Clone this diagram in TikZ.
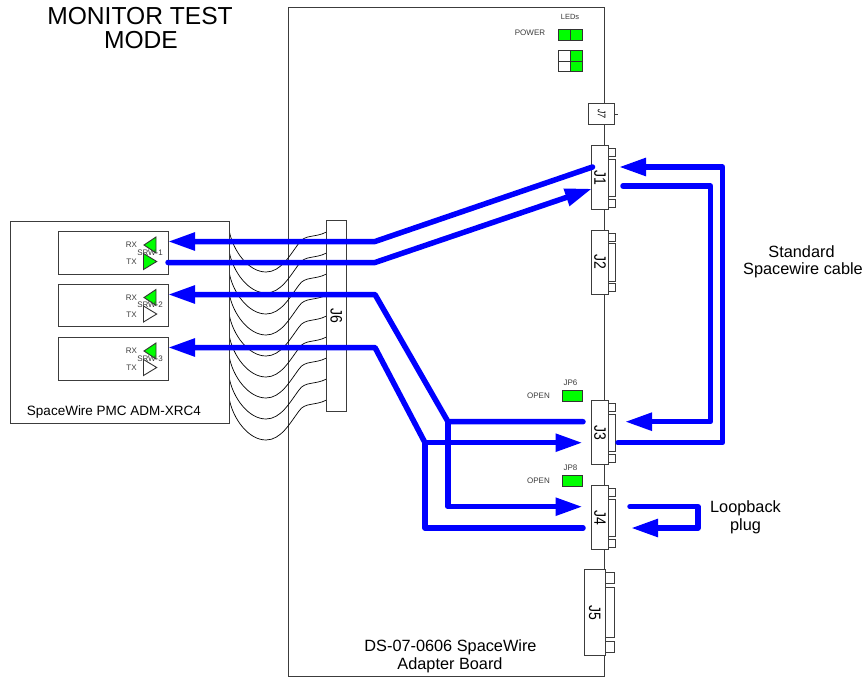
\documentclass[tikz,border=0pt]{standalone}
\usepackage{fontspec}
\setmainfont{Liberation Sans}
\usetikzlibrary{arrows.meta}
\definecolor{ledgreen}{RGB}{0,255,0}
\definecolor{wireblue}{RGB}{0,0,255}
\definecolor{edgegray}{RGB}{60,60,60}
\newcommand{\connlabel}[1]{\rotatebox{-90}{\scalebox{0.85}[1]{\fontsize{16.5}{16.5}\selectfont #1}}}
\tikzset{
  boxnode/.style={draw=edgegray, fill=white, line width=0.9pt, inner sep=0pt, outer sep=0pt},
  smalltext/.style={inner sep=0pt, text=edgegray, font=\fontsize{8}{9}\selectfont},
  bigtext/.style={inner sep=0pt, font=\fontsize{16.3}{18}\selectfont},
  bluewire/.style={line width=5.5pt, draw=wireblue, line cap=round, line join=round},
  bluearrow/.style={bluewire, -{Triangle[length=27pt,width=17pt]}},
  ledbox/.style={draw=black!80, fill=ledgreen, line width=0.9pt},
}
\begin{document}
\begin{tikzpicture}[x=1pt, y=-1pt]
    \useasboundingbox (0,0) rectangle (864,677);

    % board
    \node[boxnode, minimum width=316, minimum height=669] (board) at (446.8,341.5) {};
    \node[bigtext] (title1) at (140,16) {\fontsize{24.6}{26}\selectfont MONITOR TEST};
    \node[bigtext] (title2) at (141,40) {\fontsize{24.6}{26}\selectfont MODE};
    \node[bigtext] (boardname1) at (450.5,647) {DS-07-0606 SpaceWire};
    \node[bigtext] (boardname2) at (450,665) {Adapter Board};

    % cabling to J6
    \foreach \i in {0,...,8} {
        \coordinate (wl\i) at (229.5,232+\i*21);
        \coordinate (wr\i) at (326.5,232+\i*21);
        \draw[line width=0.7pt] (wl\i) .. controls (233,250+\i*21) and (248,272+\i*21) .. (266,272+\i*21)
            .. controls (281,272+\i*21) and (290,255+\i*21) .. (299,243+\i*21)
            .. controls (305,234+\i*21) and (315,238+\i*21) .. (wr\i);
    }
    \node[boxnode, minimum width=19.5, minimum height=191] (J6) at (336.3,315.5) {\connlabel{J6}};

    % PMC card
    \node[boxnode, minimum width=219.5, minimum height=202, fill=none] (pmc) at (119.8,322) {};
    \node[smalltext, text=black, font=\fontsize{13.5}{15}\selectfont] (pmcname) at (114,412) {SpaceWire PMC ADM-XRC4};
    \foreach \i/\ytop/\txfill in {1/232/ledgreen, 2/284.5/white, 3/338/white} {
        \node[boxnode, minimum width=109.5, minimum height=42.5] (srw\i) at (113.3,\ytop+21) {};
        \draw[ledbox] (144,\ytop+13) -- (156,\ytop+5) -- (156,\ytop+21) -- cycle;
        \draw[ledbox, fill=\txfill] (156.7,\ytop+29.5) -- (143.5,\ytop+21.5) -- (143.5,\ytop+37.5) -- cycle;
        \node[smalltext] (rx\i) at (131.5,\ytop+13) {RX};
        \node[smalltext] (tx\i) at (131.5,\ytop+30) {TX};
        \node[smalltext] (srwname\i) at (150,\ytop+20.5) {SRW-\i};
    }

    % connectors on the board edge
    \foreach \cname/\ytop in {J1/145.5, J2/230, J3/400.5, J4/485.5} {
        \node[boxnode, minimum width=16.6, minimum height=64] (\cname) at (600,\ytop+32) {\connlabel{\cname}};
        \draw[boxnode] (608.3,\ytop+3) rectangle (615,\ytop+11);
        \draw[boxnode] (608.3,\ytop+13.5) rectangle (615,\ytop+51);
        \draw[boxnode] (608.3,\ytop+53.5) rectangle (615,\ytop+61.5);
    }
    \node[boxnode, minimum width=21.7, minimum height=86.4] (J5) at (594.8,612.5) {\connlabel{J5}};
    \draw[boxnode] (605.7,572.3) rectangle (614.7,583.7);
    \draw[boxnode] (605.7,587.3) rectangle (614.7,637.7);
    \draw[boxnode] (605.7,641) rectangle (614.7,652.3);
    \node[boxnode, minimum width=26.4, minimum height=21.4] (J7) at (601.5,114) {\rotatebox{-90}{\scalebox{0.75}[1]{\fontsize{11}{11}\selectfont\itshape J7}}};
    \coordinate (stub) at (618,114);
    \draw[edgegray, line width=0.9pt] (J7.east) -- (stub);

    % LEDs and jumpers
    \node[smalltext] (ledlabel) at (570,17) {\fontsize{7.5}{8}\selectfont LEDs};
    \node[smalltext] (powerlabel) at (530,33) {POWER};
    \draw[ledbox] (558,29) rectangle (582.7,40);
    \draw[ledbox, fill=none] (570.3,29) -- (570.3,40);
    \draw[ledbox, fill=white] (558,50) rectangle (570.3,71.7);
    \draw[ledbox] (570.3,50) rectangle (582.7,71.7);
    \draw[ledbox, fill=none] (558,61) -- (582.7,61);
    \draw[ledbox] (562.3,390) rectangle (582.7,401);
    \node[smalltext] (jp6) at (570.5,383) {JP6};
    \node[smalltext] (open6) at (538.5,396) {OPEN};
    \draw[ledbox] (562.3,475) rectangle (582.7,486);
    \node[smalltext] (jp8) at (570.5,468) {JP8};
    \node[smalltext] (open8) at (538.5,480.5) {OPEN};

    % monitor paths
    \coordinate (rx1tip) at (168,241.5);
    \coordinate (rx2tip) at (168,294.5);
    \coordinate (rx3tip) at (168,347.5);
    \coordinate (tx1end) at (168,262.5);
    \coordinate (j1out) at (592.5,167);
    \coordinate (j1in) at (592,188.7);
    \coordinate (j3a) at (583,421.7);
    \coordinate (j3b) at (582.5,442.7);
    \coordinate (j4a) at (582.5,506.7);
    \coordinate (j4b) at (583,528);
    \draw[bluearrow] (j1out) -- (375,241.5) -- (rx1tip);
    \draw[bluearrow] (tx1end) -- (375,262.5) -- (j1in);
    \draw[bluearrow] (j3a) -- (448,421.7) -- (375,294.5) -- (rx2tip);
    \draw[bluearrow] (448,421.7) -- (448,506.7) -- (j4a);
    \draw[bluearrow] (j4b) -- (425,528) -- (425,442.7) -- (j3b);
    \draw[bluearrow] (425,442.7) -- (375,347.5) -- (rx3tip);

    % external cable and plug
    \coordinate (cablea) at (618,442.7);
    \coordinate (cableb) at (619,167);
    \coordinate (cablec) at (623,186);
    \coordinate (cabled) at (625,421.7);
    \coordinate (plugout) at (630,506.7);
    \coordinate (plugin) at (631,528);
    \draw[bluearrow] (cablea) -- (722.5,442.7) -- (722.5,167) -- (cableb);
    \draw[bluearrow] (cablec) -- (710.5,186) -- (710.5,421.7) -- (cabled);
    \draw[bluearrow] (plugout) -- (698,506.7) -- (698,528) -- (plugin);
    \node[bigtext] (cablelabel1) at (801.5,252) {Standard};
    \node[bigtext] (cablelabel2) at (803,270) {Spacewire cable};
    \node[bigtext] (pluglabel1) at (745.5,508) {Loopback};
    \node[bigtext] (pluglabel2) at (745.5,526) {plug};
\end{tikzpicture}
\end{document}
